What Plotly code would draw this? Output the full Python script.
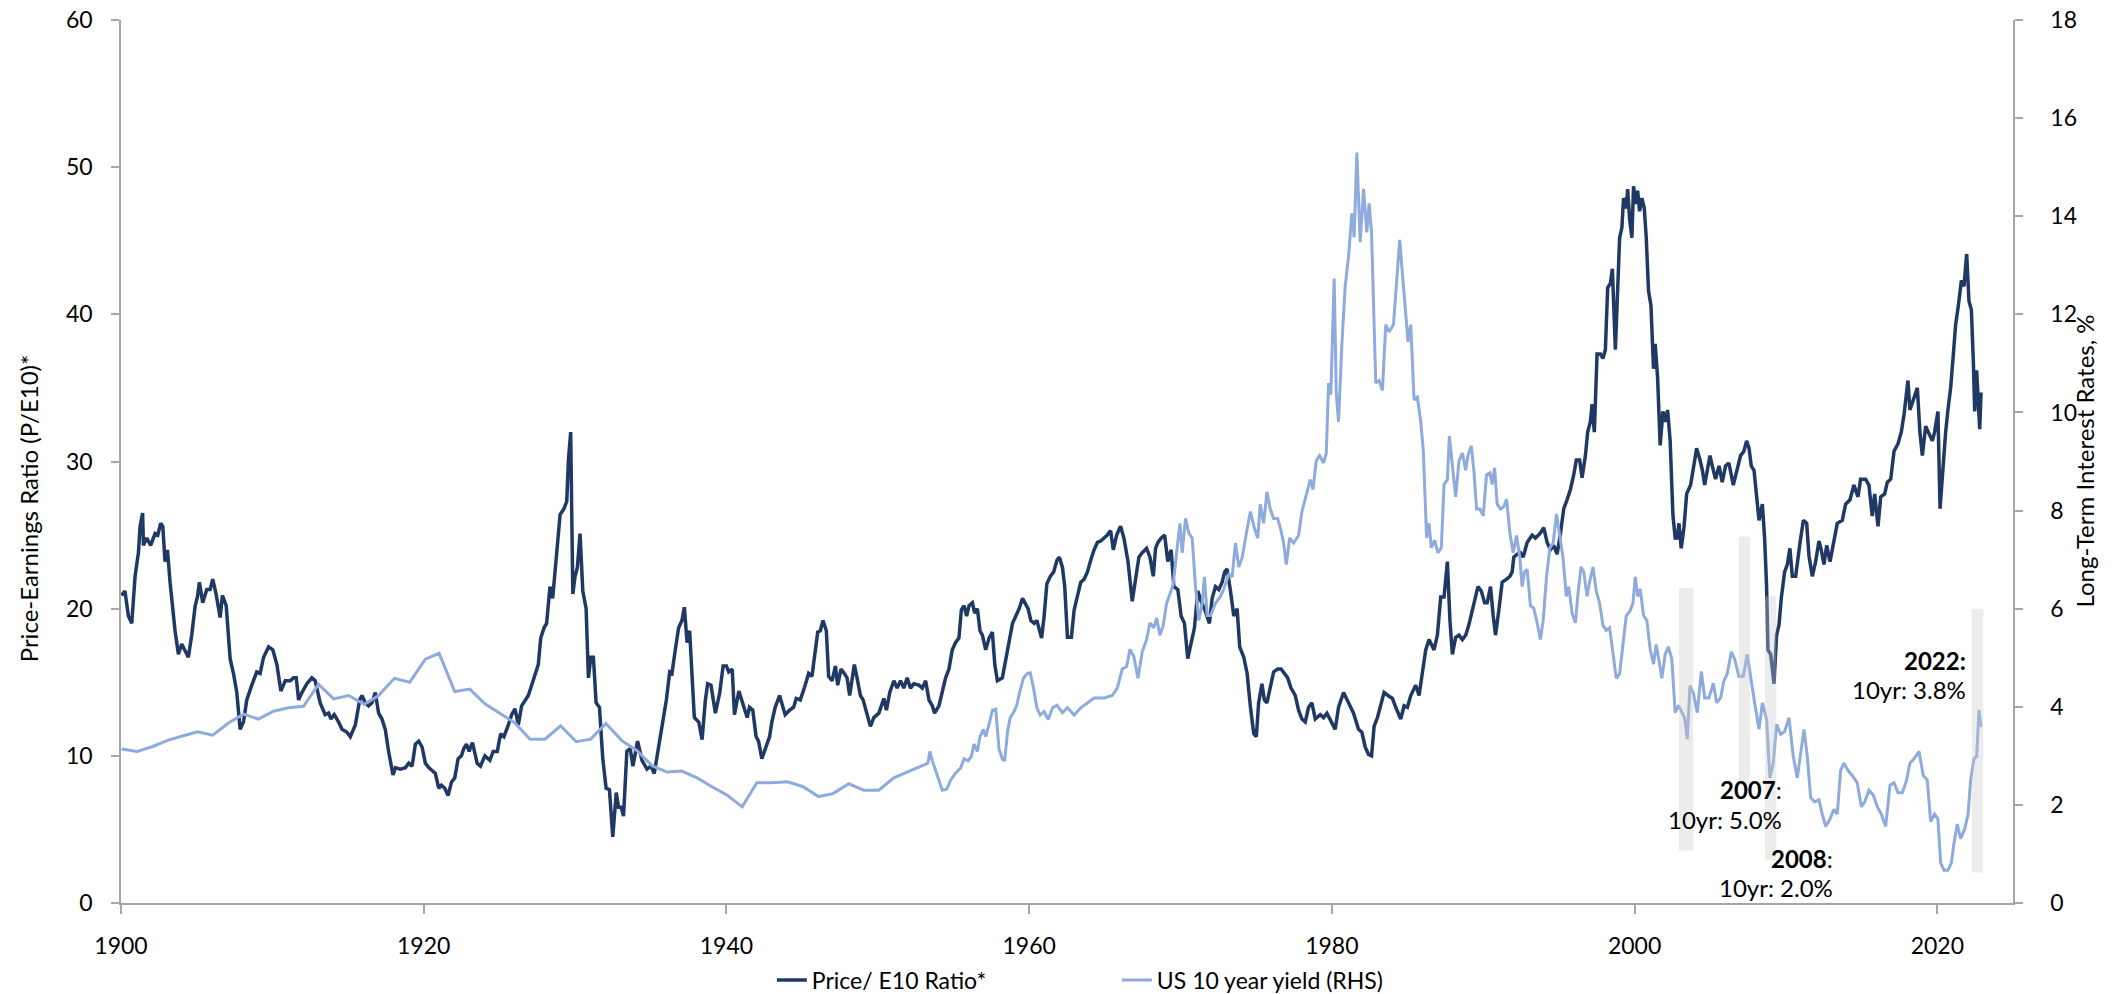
import plotly.graph_objects as go

# ---------------- data ----------------
cape_years = [
    1900.04, 1900.26, 1900.49, 1900.71, 1900.93, 1901.15, 1901.26, 1901.43, 1901.48, 1901.70,
    1901.96, 1902.25, 1902.43, 1902.62, 1902.76, 1902.91, 1903.07, 1903.24, 1903.57, 1903.79,
    1904.01, 1904.23, 1904.45, 1904.67, 1904.90, 1905.05, 1905.18, 1905.40, 1905.67, 1905.89,
    1906.06, 1906.28, 1906.55, 1906.70, 1906.95, 1907.21, 1907.43, 1907.65, 1907.87, 1908.09,
    1908.31, 1908.64, 1908.97, 1909.19, 1909.42, 1909.75, 1910.03, 1910.30, 1910.56, 1910.85,
    1911.18, 1911.40, 1911.58, 1911.73, 1911.95, 1912.28, 1912.61, 1912.83, 1913.16, 1913.49,
    1913.72, 1913.87, 1914.09, 1914.38, 1914.60, 1914.93, 1915.15, 1915.48, 1915.77, 1915.92,
    1916.14, 1916.36, 1916.58, 1916.80, 1917.02, 1917.24, 1917.46, 1917.68, 1917.97, 1918.13,
    1918.46, 1918.79, 1919.01, 1919.23, 1919.45, 1919.67, 1919.89, 1920.11, 1920.33, 1920.55,
    1920.77, 1920.99,
    1921.17, 1921.39, 1921.61, 1921.83, 1922.05, 1922.27, 1922.49, 1922.65, 1922.83, 1923.00,
    1923.22, 1923.53, 1923.75, 1924.04, 1924.37, 1924.59, 1924.86, 1925.08, 1925.30, 1925.59,
    1925.81, 1926.03, 1926.25, 1926.47, 1926.69, 1926.91, 1927.13, 1927.35, 1927.57, 1927.73,
    1927.95, 1928.12, 1928.23, 1928.34, 1928.52, 1928.68, 1928.83, 1929.01, 1929.27, 1929.45,
    1929.56, 1929.71, 1929.85, 1930.00, 1930.15, 1930.33, 1930.51, 1930.73, 1930.88, 1931.04,
    1931.21, 1931.39, 1931.61, 1931.83, 1932.05, 1932.27, 1932.49, 1932.72, 1932.87, 1933.05,
    1933.20, 1933.42, 1933.64, 1933.82, 1934.13, 1934.42, 1934.75, 1935.01, 1935.23, 1935.45,
    1935.67, 1935.85, 1936.03, 1936.25, 1936.40, 1936.62, 1936.84, 1937.06, 1937.22, 1937.40,
    1937.57, 1937.73, 1937.88, 1938.17, 1938.39, 1938.61, 1938.76, 1938.98, 1939.27, 1939.56,
    1939.78, 1940.00, 1940.15, 1940.38, 1940.53, 1940.82, 1941.15, 1941.37,
    1941.52, 1941.74, 1941.96, 1942.12, 1942.34, 1942.56, 1942.85, 1943.00, 1943.22, 1943.51,
    1943.66, 1943.88, 1944.17, 1944.44, 1944.61, 1944.88, 1945.14, 1945.43, 1945.65, 1945.87,
    1946.03, 1946.20, 1946.38, 1946.60, 1946.75, 1946.98, 1947.20, 1947.35, 1947.57, 1947.79,
    1947.97, 1948.14, 1948.30, 1948.45, 1948.63, 1948.85, 1949.03, 1949.29, 1949.51, 1949.74,
    1950.07, 1950.40, 1950.57, 1950.79, 1951.06, 1951.28, 1951.50, 1951.72, 1951.94, 1952.16,
    1952.38, 1952.72, 1952.94, 1953.16, 1953.38, 1953.60, 1953.75, 1954.04, 1954.26, 1954.48,
    1954.70, 1954.92, 1955.14, 1955.36, 1955.52, 1955.70, 1955.87, 1956.03, 1956.25, 1956.40,
    1956.58, 1956.75, 1956.91, 1957.13, 1957.35, 1957.57, 1957.73, 1957.90, 1958.23, 1958.57,
    1958.90, 1959.12, 1959.34, 1959.56, 1959.78, 1959.93, 1960.11, 1960.33, 1960.51, 1960.66,
    1960.82, 1960.99, 1961.17, 1961.40, 1961.62, 1961.84, 1962.00,
    1962.20, 1962.35, 1962.53, 1962.79, 1962.97, 1963.19, 1963.41, 1963.63, 1963.85, 1964.07,
    1964.29, 1964.51, 1964.73, 1964.95, 1965.16, 1965.38, 1965.56, 1965.78, 1966.04, 1966.26,
    1966.53, 1966.81, 1967.03, 1967.25, 1967.47, 1967.76, 1967.98, 1968.20, 1968.35, 1968.51,
    1968.73, 1968.95, 1969.16, 1969.38, 1969.56, 1969.82, 1970.04, 1970.26, 1970.48, 1970.70,
    1970.92, 1971.14, 1971.36, 1971.58, 1971.76, 1971.91, 1972.09, 1972.31, 1972.53, 1972.75,
    1972.92, 1973.08, 1973.30, 1973.52, 1973.74, 1973.91, 1974.18, 1974.40, 1974.62, 1974.84,
    1975.01, 1975.16, 1975.38, 1975.54, 1975.71, 1975.93, 1976.15, 1976.42, 1976.64, 1976.86,
    1977.08, 1977.30, 1977.58, 1977.80, 1978.02, 1978.24, 1978.46, 1978.68, 1978.90, 1979.23,
    1979.45, 1979.67, 1979.89, 1980.22, 1980.44, 1980.77, 1981.10, 1981.43, 1981.76, 1981.98,
    1982.20, 1982.42,
    1982.62, 1982.79, 1983.01, 1983.23, 1983.45, 1983.71, 1984.00, 1984.22, 1984.55, 1984.77,
    1984.99, 1985.21, 1985.54, 1985.76, 1985.98, 1986.20, 1986.42, 1986.75, 1986.97, 1987.19,
    1987.41, 1987.63, 1987.80, 1987.96, 1988.18, 1988.40, 1988.62, 1988.84, 1989.05, 1989.27,
    1989.49, 1989.65, 1989.87, 1990.09, 1990.26, 1990.48, 1990.66, 1990.81, 1991.03, 1991.25,
    1991.54, 1991.76, 1991.91, 1992.02, 1992.24, 1992.46, 1992.64, 1992.90, 1993.23, 1993.45,
    1993.74, 1994.00, 1994.22, 1994.44, 1994.66, 1994.88, 1995.10, 1995.32, 1995.54, 1995.76,
    1995.98, 1996.15, 1996.37, 1996.53, 1996.75, 1996.90, 1997.08, 1997.19, 1997.34, 1997.52,
    1997.74, 1997.91, 1998.07, 1998.22, 1998.40, 1998.53, 1998.73, 1998.88, 1999.01, 1999.16,
    1999.27, 1999.45, 1999.54, 1999.67, 1999.82, 1999.93, 2000.07, 2000.20, 2000.33, 2000.48,
    2000.64, 2000.77, 2000.92, 2001.08, 2001.25, 2001.36, 2001.52, 2001.69, 2001.87, 2002.02,
    2002.18, 2002.35, 2002.53, 2002.68,
    2002.82, 2002.93, 2003.08, 2003.26, 2003.44, 2003.70, 2003.92, 2004.10, 2004.32, 2004.48,
    2004.63, 2004.80, 2004.98, 2005.13, 2005.35, 2005.58, 2005.79, 2006.01, 2006.23, 2006.52,
    2006.74, 2007.00, 2007.22, 2007.40, 2007.56, 2007.71, 2007.89, 2008.06, 2008.22, 2008.44,
    2008.59, 2008.72, 2008.81, 2008.99, 2009.21, 2009.38, 2009.54, 2009.69, 2009.91, 2010.09,
    2010.26, 2010.42, 2010.64, 2010.93, 2011.15, 2011.37, 2011.52, 2011.74, 2011.96, 2012.18,
    2012.33, 2012.51, 2012.69, 2012.91, 2013.13, 2013.39, 2013.72, 2013.94, 2014.23, 2014.49,
    2014.76, 2014.93, 2015.26, 2015.48, 2015.70, 2015.86, 2016.08, 2016.26, 2016.52, 2016.70,
    2016.92, 2017.14, 2017.40, 2017.62, 2017.80, 2018.06, 2018.19, 2018.35, 2018.50, 2018.68,
    2018.85, 2019.01, 2019.23, 2019.45, 2019.67, 2019.82, 2020.04, 2020.18, 2020.33, 2020.55,
    2020.70, 2020.88, 2021.06, 2021.21, 2021.39, 2021.59, 2021.76, 2021.94, 2022.09, 2022.25,
    2022.38, 2022.47, 2022.60, 2022.69, 2022.80, 2022.89,
]

cape_values = [
    20.9, 21.2, 19.5, 19.0, 22.2, 23.8, 25.6, 26.5, 24.3, 24.8,
    24.3, 25.1, 25.0, 25.8, 25.6, 23.2, 24.0, 21.8, 18.5, 16.9,
    17.6, 17.2, 16.7, 18.2, 20.2, 20.8, 21.8, 20.4, 21.3, 21.3,
    22.0, 21.0, 19.4, 20.9, 20.2, 16.6, 15.6, 14.3, 11.8, 12.3,
    13.8, 14.8, 15.7, 15.6, 16.7, 17.4, 17.2, 16.2, 14.4, 15.1,
    15.1, 15.3, 15.3, 13.8, 14.3, 14.9, 15.3, 15.1, 13.6, 12.8,
    12.9, 12.5, 12.8, 12.3, 11.8, 11.6, 11.3, 12.1, 13.8, 14.1,
    13.6, 13.4, 13.6, 14.3, 12.9, 12.5, 11.8, 10.3, 8.7, 9.2,
    9.1, 9.2, 9.5, 9.3, 10.8, 11.0, 10.6, 9.5, 9.2, 9.0,
    8.8, 7.8,
    8.0, 7.8, 7.3, 8.2, 8.5, 9.8, 10.0, 10.5, 10.8, 10.3,
    10.9, 9.5, 9.3, 10.0, 9.7, 10.3, 10.3, 11.5, 11.3, 12.1,
    12.8, 13.2, 12.1, 13.4, 13.8, 14.1, 14.8, 15.6, 16.2, 18.0,
    18.7, 19.0, 20.5, 21.5, 20.7, 22.8, 24.6, 26.4, 26.8, 27.3,
    30.1, 32.0, 21.0, 22.2, 22.8, 25.1, 21.2, 20.0, 15.3, 16.7,
    16.7, 13.6, 13.3, 9.8, 7.8, 7.7, 4.5, 7.5, 6.5, 6.5,
    5.9, 10.3, 10.5, 9.3, 11.0, 9.7, 9.1, 9.3, 8.8, 10.1,
    11.6, 12.6, 13.8, 15.7, 15.6, 17.2, 18.7, 19.2, 20.1, 17.7,
    18.5, 15.4, 12.6, 12.3, 11.1, 13.8, 14.9, 14.8, 12.9, 14.3,
    16.1, 16.1, 15.7, 15.9, 12.8, 14.4, 13.3, 12.6,
    13.3, 13.1, 11.3, 11.0, 9.8, 10.5, 11.3, 12.3, 13.3, 14.1,
    13.6, 12.8, 13.1, 13.3, 13.9, 13.8, 14.6, 15.6, 15.4, 17.2,
    18.4, 18.5, 19.2, 18.5, 15.4, 15.1, 16.1, 14.8, 15.9, 15.6,
    15.3, 14.1, 15.1, 16.2, 15.3, 14.1, 13.8, 12.9, 12.0, 12.6,
    12.9, 13.9, 13.1, 14.3, 15.1, 14.6, 15.1, 14.6, 15.3, 14.6,
    14.9, 14.8, 14.6, 15.1, 13.8, 13.4, 12.9, 13.4, 14.3, 15.3,
    15.9, 17.2, 17.7, 18.0, 19.9, 20.2, 19.5, 20.2, 20.4, 19.7,
    20.0, 18.5, 18.2, 17.2, 18.0, 18.4, 16.2, 15.1, 15.3, 17.2,
    19.0, 19.5, 20.0, 20.7, 20.2, 20.0, 19.2, 19.0, 19.2, 18.7,
    18.0, 19.5, 21.7, 22.2, 22.5, 23.3, 23.5,
    22.8, 21.5, 18.05, 18.05, 19.9, 20.8, 21.8, 22.0, 22.5, 23.3,
    24.0, 24.5, 24.6, 24.8, 25.0, 25.3, 24.0, 25.0, 25.6, 24.8,
    23.2, 20.5, 22.2, 23.5, 23.8, 24.1, 23.5, 22.2, 24.1, 24.5,
    24.8, 25.0, 23.2, 24.0, 21.5, 21.3, 19.5, 19.0, 16.6, 17.7,
    18.7, 21.2, 20.5, 20.0, 19.5, 19.0, 20.7, 21.5, 21.3, 21.8,
    22.5, 22.7, 21.2, 19.5, 20.0, 17.4, 16.7, 15.6, 13.3, 11.5,
    11.3, 13.6, 14.9, 13.8, 13.6, 14.6, 15.7, 15.9, 15.9, 15.6,
    15.3, 14.6, 14.1, 13.1, 12.5, 12.3, 13.3, 13.6, 12.5, 12.8,
    12.6, 12.9, 12.5, 11.8, 13.3, 14.3, 13.6, 12.9, 11.8, 11.6,
    10.6, 10.1,
    10.0, 12.0, 12.6, 13.4, 14.3, 14.1, 13.9, 13.3, 12.5, 13.4,
    13.3, 14.1, 14.8, 14.1, 15.6, 17.2, 17.9, 17.2, 18.2, 20.8,
    20.8, 23.2, 19.2, 16.9, 18.05, 18.2, 17.9, 18.2, 18.9, 19.9,
    21.0, 21.5, 21.2, 20.4, 20.4, 21.5, 19.5, 18.2, 19.9, 21.8,
    22.0, 22.2, 22.5, 23.5, 23.7, 23.8, 23.5, 24.5, 25.0, 24.8,
    25.1, 25.5, 24.5, 24.0, 24.3, 23.7, 25.1, 26.8, 27.4, 28.1,
    29.1, 30.1, 30.1, 28.9, 30.4, 32.0, 32.7, 33.9, 32.0, 37.3,
    37.3, 37.0, 37.6, 41.8, 42.1, 43.1, 37.6, 41.3, 45.2, 45.9,
    47.9, 47.2, 48.5, 46.5, 45.2, 48.7, 47.5, 48.4, 47.0, 47.9,
    47.2, 45.2, 41.6, 40.6, 36.3, 38.0, 35.7, 31.1, 33.4, 32.7,
    33.5, 31.4, 26.4, 24.8,
    24.8, 25.8, 24.1, 25.5, 27.8, 28.4, 29.7, 30.9, 30.1, 29.4,
    28.4, 29.4, 30.4, 29.7, 28.8, 29.7, 28.6, 29.7, 29.9, 28.4,
    29.4, 30.4, 30.7, 31.4, 30.9, 29.7, 29.4, 27.4, 26.0, 27.1,
    24.8, 21.5, 17.2, 16.9, 14.9, 18.2, 18.9, 20.7, 22.5, 23.0,
    24.1, 22.2, 22.2, 24.5, 26.0, 25.8, 23.6, 22.2, 23.2, 24.6,
    24.0, 23.0, 24.3, 23.2, 24.5, 25.8, 26.0, 27.1, 27.4, 28.4,
    27.6, 28.8, 28.8, 28.4, 26.3, 27.8, 25.6, 27.6, 27.8, 28.6,
    28.8, 30.7, 31.2, 32.0, 33.2, 35.5, 33.5, 34.0, 34.4, 35.0,
    32.0, 30.4, 32.4, 31.9, 31.4, 32.0, 33.4, 26.8, 29.1, 32.0,
    33.5, 35.0, 37.3, 39.3, 40.6, 42.3, 41.9, 44.1, 40.9, 40.3,
    36.8, 33.4, 36.2, 34.0, 32.2, 34.7,
]

yield_years = [
    1900.04, 1901.08, 1902.09, 1903.13, 1904.12, 1905.05, 1906.06, 1907.10, 1908.09, 1909.08,
    1910.08, 1911.07, 1912.06, 1913.05, 1914.05, 1915.04, 1916.07, 1917.02, 1918.06, 1919.07,
    1920.11, 1921.02, 1922.05, 1923.05, 1924.04, 1925.03, 1926.03, 1927.02, 1928.01, 1929.05,
    1930.07, 1931.04, 1932.03, 1933.09, 1934.08, 1935.08, 1936.07, 1937.06, 1938.06, 1939.05,
    1940.04, 1941.04, 1942.01, 1943.00, 1944.04, 1945.06, 1946.09, 1947.04, 1948.08, 1949.07,
    1950.07, 1951.06, 1952.05, 1953.04, 1953.31, 1953.44, 1953.60, 1953.82, 1954.04, 1954.26,
    1954.55, 1954.81, 1955.14, 1955.47, 1955.70, 1955.96, 1956.18, 1956.36, 1956.58, 1956.75,
    1956.98, 1957.13, 1957.35, 1957.57, 1957.79, 1958.01, 1958.23, 1958.38, 1958.57, 1958.75,
    1958.96, 1959.18, 1959.40, 1959.62, 1959.85, 1960.07, 1960.29, 1960.51, 1960.73, 1960.99,
    1961.26, 1961.55, 1961.84,
    1962.20, 1962.53, 1962.97, 1963.41, 1963.85, 1964.29, 1964.95, 1965.49, 1965.82, 1966.15,
    1966.44, 1966.66, 1966.92, 1967.19, 1967.47, 1967.76, 1967.98, 1968.24, 1968.42, 1968.64,
    1968.86, 1969.08, 1969.30, 1969.52, 1969.74, 1969.96, 1970.11, 1970.33, 1970.55, 1970.77,
    1970.99, 1971.21, 1971.43, 1971.58, 1971.76, 1971.98, 1972.31, 1972.64, 1972.86, 1973.19,
    1973.41, 1973.63, 1973.85, 1974.07, 1974.35, 1974.62, 1974.88, 1975.10, 1975.27, 1975.49,
    1975.71, 1975.93, 1976.15, 1976.42, 1976.64, 1976.81, 1976.99, 1977.21, 1977.47, 1977.80,
    1978.02, 1978.35, 1978.57, 1978.75, 1978.97, 1979.19, 1979.45, 1979.63, 1979.78, 1979.93,
    1980.15, 1980.29, 1980.44, 1980.66, 1980.88, 1981.10, 1981.32, 1981.47, 1981.65, 1981.87,
    1982.09, 1982.31,
    1982.46, 1982.62, 1982.75, 1982.90, 1983.12, 1983.34, 1983.56, 1983.78, 1984.07, 1984.29,
    1984.48, 1984.66, 1984.88, 1985.03, 1985.21, 1985.43, 1985.65, 1985.87, 1986.04, 1986.26,
    1986.42, 1986.57, 1986.79, 1987.01, 1987.23, 1987.41, 1987.63, 1987.76, 1987.96, 1988.18,
    1988.40, 1988.62, 1988.84, 1988.99, 1989.21, 1989.38, 1989.56, 1989.78, 1990.00, 1990.22,
    1990.44, 1990.59, 1990.75, 1990.92, 1991.14, 1991.36, 1991.54, 1991.76, 1991.98, 1992.20,
    1992.42, 1992.57, 1992.73, 1992.90, 1993.12, 1993.34, 1993.56, 1993.78, 1993.96, 1994.18,
    1994.40, 1994.62, 1994.84, 1995.05, 1995.27, 1995.49, 1995.65, 1995.87, 1996.09, 1996.24,
    1996.46, 1996.64, 1996.86, 1997.03, 1997.25, 1997.47, 1997.69, 1997.91, 1998.13, 1998.35,
    1998.62, 1998.79, 1999.01, 1999.23, 1999.45, 1999.71, 1999.89, 2000.04, 2000.20, 2000.37,
    2000.59, 2000.81, 2001.03, 2001.25, 2001.43, 2001.65, 2001.80, 2002.02, 2002.24, 2002.46,
    2002.68, 2002.90,
    2003.15, 2003.30, 2003.48, 2003.66, 2003.88, 2004.14, 2004.41, 2004.63, 2004.91, 2005.20,
    2005.42, 2005.68, 2005.90, 2006.12, 2006.39, 2006.61, 2006.89, 2007.18, 2007.44, 2007.67,
    2007.93, 2008.22, 2008.44, 2008.72, 2008.94, 2009.16, 2009.38, 2009.65, 2009.91, 2010.20,
    2010.48, 2010.75, 2010.97, 2011.19, 2011.41, 2011.63, 2011.89, 2012.18, 2012.40, 2012.62,
    2012.91, 2013.17, 2013.39, 2013.61, 2013.83, 2014.10, 2014.38, 2014.71, 2014.98, 2015.20,
    2015.48, 2015.77, 2016.04, 2016.30, 2016.59, 2016.87, 2017.14, 2017.40, 2017.69, 2017.97,
    2018.19, 2018.46, 2018.79, 2019.07, 2019.34, 2019.56, 2019.82, 2020.04, 2020.22, 2020.44,
    2020.70, 2020.93, 2021.10, 2021.32, 2021.54, 2021.81, 2022.03, 2022.20, 2022.42, 2022.60,
    2022.75, 2022.89,
]

yield_values = [
    3.14, 3.09, 3.19, 3.32, 3.41, 3.49, 3.42, 3.67, 3.85, 3.75,
    3.91, 3.98, 4.01, 4.46, 4.16, 4.23, 4.05, 4.23, 4.58, 4.50,
    4.97, 5.09, 4.31, 4.36, 4.06, 3.86, 3.67, 3.34, 3.34, 3.61,
    3.29, 3.34, 3.66, 3.31, 3.11, 2.80, 2.67, 2.69, 2.55, 2.37,
    2.20, 1.96, 2.45, 2.45, 2.47, 2.37, 2.17, 2.23, 2.43, 2.30,
    2.30, 2.55, 2.68, 2.82, 2.85, 3.09, 2.90, 2.70, 2.50, 2.30,
    2.32, 2.50, 2.65, 2.75, 2.94, 2.90, 2.99, 3.24, 3.09, 3.39,
    3.54, 3.39, 3.64, 3.93, 3.95, 3.14, 2.94, 2.90, 3.49, 3.78,
    3.88, 4.03, 4.33, 4.58, 4.67, 4.69, 4.38, 3.98, 3.83, 3.90,
    3.74, 3.98, 4.03,
    3.88, 3.98, 3.83, 3.98, 4.08, 4.18, 4.18, 4.23, 4.38, 4.77,
    4.82, 5.17, 5.02, 4.58, 5.12, 5.37, 5.71, 5.61, 5.81, 5.46,
    5.66, 6.11, 6.30, 6.50, 7.14, 7.74, 7.14, 7.84, 7.54, 7.44,
    6.45, 5.76, 6.11, 6.65, 5.86, 5.86, 6.11, 6.25, 6.40, 6.70,
    6.65, 7.34, 6.85, 7.04, 7.54, 7.98, 7.64, 7.44, 8.13, 7.74,
    8.38, 8.03, 7.84, 7.84, 7.59, 7.34, 6.90, 7.44, 7.34, 7.49,
    7.98, 8.38, 8.63, 8.43, 9.02, 9.12, 8.97, 9.17, 10.60, 10.36,
    12.73, 10.40, 9.81, 11.39, 12.58, 13.17, 14.06, 13.57, 15.30, 13.47,
    14.56, 13.67,
    14.26, 13.67, 12.38, 10.60, 10.65, 10.45, 11.79, 11.64, 11.79, 12.68,
    13.52, 12.83, 11.89, 11.44, 11.79, 10.26, 10.31, 9.81, 9.22, 7.44,
    7.74, 7.24, 7.39, 7.14, 7.24, 8.53, 8.63, 9.52, 8.92, 8.28,
    9.02, 9.17, 8.82, 9.12, 9.32, 8.82, 8.03, 8.03, 7.89, 8.73,
    8.77, 8.53, 8.87, 8.13, 8.03, 8.08, 8.23, 7.54, 7.14, 7.49,
    7.04, 6.45, 6.75, 6.80, 6.06, 6.01, 5.71, 5.37, 5.76, 6.65,
    7.24, 7.34, 7.93, 7.54, 7.04, 6.25, 6.45, 5.91, 5.71, 6.25,
    6.85, 6.75, 6.25, 6.55, 6.85, 6.35, 6.11, 5.66, 5.56, 5.61,
    4.97, 4.58, 4.67, 5.27, 5.86, 5.96, 6.11, 6.65, 6.25, 6.40,
    5.86, 5.76, 5.17, 4.87, 5.27, 4.87, 4.58, 5.07, 5.22, 4.97,
    3.88, 4.03,
    3.88, 3.78, 3.34, 4.43, 4.28, 3.88, 4.72, 4.18, 4.18, 4.48,
    4.08, 4.18, 4.53, 4.67, 5.12, 4.97, 4.62, 4.62, 5.07, 4.58,
    4.08, 3.54, 4.08, 3.74, 2.55, 2.85, 3.64, 3.44, 3.49, 3.78,
    2.99, 2.55, 3.09, 3.54, 2.99, 2.15, 2.06, 2.10, 1.81, 1.56,
    1.71, 1.91, 1.81, 2.70, 2.85, 2.70, 2.60, 2.45, 1.96, 2.06,
    2.30, 2.20, 1.96, 1.81, 1.56, 2.40, 2.45, 2.25, 2.25, 2.50,
    2.85, 2.94, 3.09, 2.60, 2.50, 1.66, 1.81, 1.71, 0.82, 0.67,
    0.67, 0.82, 1.22, 1.61, 1.31, 1.51, 1.81, 2.50, 2.94, 2.99,
    3.93, 3.59,
]

# shaded highlight periods (years, and left-axis extent)
band_start = [2002.93, 2006.89, 2008.61, 2022.27]
band_end = [2003.88, 2007.62, 2009.36, 2023.04]
band_low = [3.56, 8.0, 2.9, 2.07]
band_high = [21.4, 24.9, 20.85, 20.0]

# callout labels (right-aligned), anchored in data units of the left axis
note_text = ["<b>2022:</b>", "10yr: 3.8%", "<b>2007</b>:", "10yr: 5.0%", "<b>2008</b>:", "10yr: 2.0%"]
note_year = [2022.0, 2022.0, 2009.85, 2009.85, 2013.22, 2013.22]
note_value = [16.5, 14.5, 7.68, 5.7, 3.0, 1.05]

x_tick_years = [1900, 1920, 1940, 1960, 1980, 2000, 2020]
x_tick_labels = ["1900", "1920", "1940", "1960", "1980", "2000", "2020"]

series_names = ["Price/ E10 Ratio*", "US 10 year yield (RHS)"]
left_title = "Price-Earnings Ratio (P/E10)*"
right_title = "Long-Term Interest Rates, %"

# ---------------- figure ----------------
FONT = "Lato, 'Open Sans', sans-serif"
AXIS_GREY = "#a6a6a6"
TXT = "#000000"

fig = go.Figure()
fig.add_trace(go.Scatter(
    x=cape_years, y=cape_values, name=series_names[0], mode="lines",
    line=dict(color="#1F3864", width=3.5), yaxis="y",
))
fig.add_trace(go.Scatter(
    x=yield_years, y=yield_values, name=series_names[1], mode="lines",
    line=dict(color="#8FAADC", width=3), yaxis="y2",
))

for x0, x1, y0, y1 in zip(band_start, band_end, band_low, band_high):
    fig.add_shape(type="rect", xref="x", yref="y", x0=x0, x1=x1, y0=y0, y1=y1,
                  fillcolor="rgba(200,200,200,0.35)", line=dict(width=0), layer="above")

for t, xv, yv in zip(note_text, note_year, note_value):
    fig.add_annotation(x=xv, y=yv, xref="x", yref="y", text=t, showarrow=False,
                       xanchor="right", yanchor="middle", align="right",
                       font=dict(family=FONT, size=24, color=TXT))

# axis titles
fig.add_annotation(text=left_title, xref="paper", yref="paper", x=0, y=0.447,
                   xshift=-93, textangle=-90, showarrow=False,
                   xanchor="center", yanchor="middle",
                   font=dict(family=FONT, size=24, color=TXT))
fig.add_annotation(text=right_title, xref="paper", yref="paper", x=1, y=0.5,
                   xshift=71, textangle=-90, showarrow=False,
                   xanchor="center", yanchor="middle",
                   font=dict(family=FONT, size=24, color=TXT))

axis_common = dict(showgrid=False, zeroline=False, showline=True, linecolor=AXIS_GREY,
                   linewidth=1.5, ticks="outside", tickcolor=AXIS_GREY, tickwidth=1.5,
                   automargin=False, ticklabeloverflow="allow",
                   tickfont=dict(family=FONT, size=23, color=TXT))

fig.update_layout(
    width=2119, height=994,
    margin=dict(l=121, r=106, t=20, b=91, autoexpand=False),
    paper_bgcolor="white", plot_bgcolor="white",
    font=dict(family=FONT, size=23, color=TXT),
    xaxis=dict(range=[1900, 2025], tickvals=x_tick_years, ticktext=x_tick_labels,
               ticklen=9, ticklabelstandoff=13, **axis_common),
    yaxis=dict(range=[0, 60], tickmode="linear", tick0=0, dtick=10,
               ticklen=8, ticklabelstandoff=14, **axis_common),
    yaxis2=dict(range=[0, 18], tickmode="linear", tick0=0, dtick=2, overlaying="y",
                side="right", ticklen=8, ticklabelstandoff=23, **axis_common),
    showlegend=True,
    legend=dict(orientation="h", x=0.344, xanchor="left",
                yref="container", y=0.0141, yanchor="middle",
                bgcolor="rgba(0,0,0,0)", font=dict(family=FONT, size=23, color=TXT),
                entrywidth=300, traceorder="normal"),
)

# remove the browser's default page margin so the figure sits at the window origin
fig.write_html("out.html",
               config={"displayModeBar": False},
               post_script="document.body.style.margin='0';document.body.style.padding='0';")
